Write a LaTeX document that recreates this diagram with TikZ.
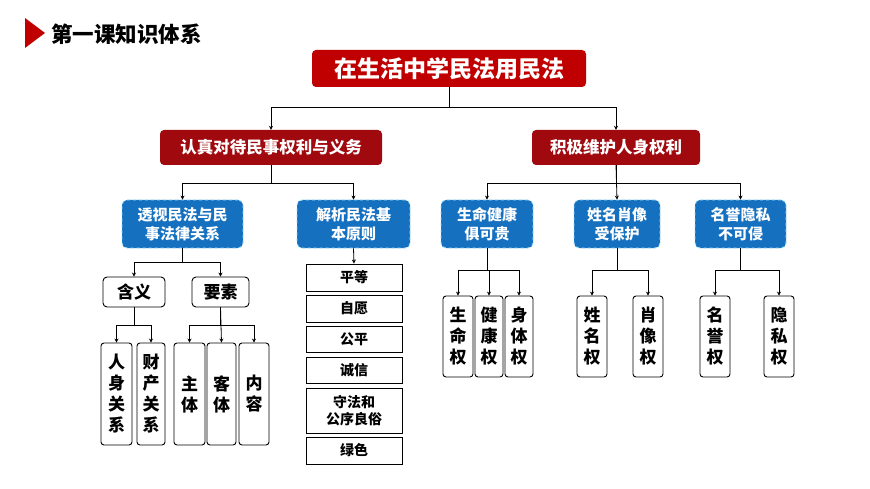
\documentclass[tikz,border=0pt]{standalone}
\usepackage{fontspec}
\setmainfont{Noto Sans CJK SC}
\usetikzlibrary{arrows.meta}
\definecolor{rootred}{HTML}{C00000}
\definecolor{darkred}{HTML}{A00A0F}
\definecolor{myblue}{HTML}{1570C0}
\begin{document}
\begin{tikzpicture}[x=1pt,y=-1pt,
  every node/.style={inner sep=0pt,font=\bfseries,align=center},
  root/.style={fill=rootred,text=white,rounded corners=4pt,font=\bfseries\fontsize{23}{26}\selectfont},
  lone/.style={fill=darkred,text=white,rounded corners=4pt,font=\bfseries\fontsize{16.5}{19}\selectfont},
  blue/.style={fill=myblue,text=white,rounded corners=5pt,draw=cyan!40!white,dashed,line width=0.8pt,font=\bfseries\fontsize{15}{19}\selectfont},
  wbox/.style={draw=black,fill=white,rounded corners=4pt,line width=0.9pt,font=\bfseries\fontsize{17}{19}\selectfont},
  vbox/.style={draw=black,fill=white,rounded corners=3pt,line width=0.9pt,font=\bfseries\fontsize{17}{21}\selectfont},
  pbox/.style={draw=black,fill=white,line width=0.9pt,minimum width=96pt,font=\bfseries\fontsize{14}{17}\selectfont},
  arr/.style={draw=black,line width=0.8pt,-{Stealth[length=4pt,width=4pt]}},
  ln/.style={draw=black,line width=0.8pt}]
\useasboundingbox (0,0) rectangle (870,489);
\fill[white] (0,0) rectangle (870,489);
% title
\fill[rootred] (25,18) -- (45,33) -- (25,48) -- cycle;
\node[anchor=west,font=\bfseries\fontsize{21.5}{24}\selectfont] (title) at (51,34) {第一课知识体系};
% root and level 1
\node[root,minimum width=274pt,minimum height=37pt] (root) at (449,68.5) {在生活中学民法用民法};
\node[lone,minimum width=222pt,minimum height=35pt] (la) at (271,147.5) {认真对待民事权利与义务};
\node[lone,minimum width=168pt,minimum height=35pt] (lb) at (616,147.5) {积极维护人身权利};
\draw[arr] (root.south) -- ++(0,20) -| (la.north);
\draw[arr] (root.south) -- ++(0,20) -| (lb.north);
% blue boxes
\node[blue,minimum width=121pt,minimum height=48pt] (b1) at (182.5,224) {透视民法与民\\事法律关系};
\node[blue,minimum width=113pt,minimum height=48pt] (b2) at (353.5,224) {解析民法基\\本原则};
\node[blue,minimum width=92pt,minimum height=48pt] (b3) at (487,224) {生命健康\\俱可贵};
\node[blue,minimum width=86pt,minimum height=48pt] (b4) at (617,224) {姓名肖像\\受保护};
\node[blue,minimum width=91pt,minimum height=48pt] (b5) at (740.5,224) {名誉隐私\\不可侵};
\draw[arr] (la.south) -- ++(0,18) -| (b1.north);
\draw[arr] (la.south) -- ++(0,18) -| (b2.north);
\draw[arr] (lb.south) -- ++(0,18) -| (b3.north);
\draw[arr] (lb.south) -- (b4.north);
\draw[arr] (lb.south) -- ++(0,18) -| (b5.north);
% 含义 要素
\node[wbox,minimum width=62pt,minimum height=30pt] (hy) at (134,292) {含义};
\node[wbox,minimum width=57pt,minimum height=30pt] (ys) at (220.5,292) {要素};
\draw[arr] (b1.south) -- ++(0,14) -| (hy.north);
\draw[arr] (b1.south) -- ++(0,14) -| (ys.north);
\node[vbox,minimum width=31pt,minimum height=102pt] (rs) at (116.5,394) {人\\身\\关\\系};
\node[vbox,minimum width=28pt,minimum height=102pt] (cc) at (151,394) {财\\产\\关\\系};
\draw[arr] (hy.south) -- ++(0,18) -| (rs.north);
\draw[arr] (hy.south) -- ++(0,18) -| (cc.north);
\node[vbox,minimum width=31pt,minimum height=102pt] (zt) at (189.5,394) {主\\体};
\node[vbox,minimum width=29pt,minimum height=102pt] (kt) at (221.5,394) {客\\体};
\node[vbox,minimum width=30pt,minimum height=102pt] (nr) at (254,394) {内\\容};
\draw[arr] (ys.south) -- ++(0,18) -| (zt.north);
\draw[arr] (ys.south) -- (kt.north);
\draw[arr] (ys.south) -- ++(0,18) -| (nr.north);
% principles
\node[pbox,minimum height=27pt] (p1) at (354,277.5) {平等};
\node[pbox,minimum height=27pt] (p2) at (354,308.5) {自愿};
\node[pbox,minimum height=26pt] (p3) at (354,339) {公平};
\node[pbox,minimum height=26pt] (p4) at (354,370) {诚信};
\node[pbox,minimum height=45pt] (p5) at (354,410.5) {守法和\\公序良俗};
\node[pbox,minimum height=27pt] (p6) at (354,450.5) {绿色};
\draw[arr] (b2.south) -- (p1.north);
% right vertical boxes
\node[vbox,minimum width=30pt,minimum height=81pt] (sm) at (458,336.5) {生\\命\\权};
\node[vbox,minimum width=28pt,minimum height=81pt] (jk) at (489,336.5) {健\\康\\权};
\node[vbox,minimum width=28pt,minimum height=81pt] (st) at (519,336.5) {身\\体\\权};
\draw[arr] (b3.south) -- ++(0,22) -| (sm.north);
\draw[arr] (b3.south) -- ++(0,22) -| (jk.north);
\draw[arr] (b3.south) -- ++(0,22) -| (st.north);
\node[vbox,minimum width=30pt,minimum height=81pt] (xm) at (592,336.5) {姓\\名\\权};
\node[vbox,minimum width=30pt,minimum height=81pt] (xx) at (648,336.5) {肖\\像\\权};
\draw[arr] (b4.south) -- ++(0,22) -| (xm.north);
\draw[arr] (b4.south) -- ++(0,22) -| (xx.north);
\node[vbox,minimum width=30pt,minimum height=81pt] (my) at (715,336.5) {名\\誉\\权};
\node[vbox,minimum width=30pt,minimum height=81pt] (ysq) at (779,336.5) {隐\\私\\权};
\draw[arr] (b5.south) -- ++(0,22) -| (my.north);
\draw[arr] (b5.south) -- ++(0,22) -| (ysq.north);
\end{tikzpicture}
\end{document}
